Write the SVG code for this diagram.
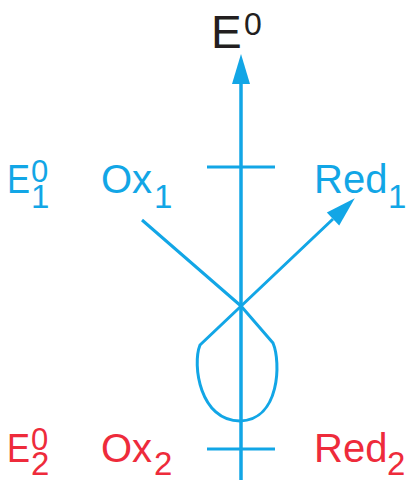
<svg xmlns="http://www.w3.org/2000/svg" width="409" height="480" viewBox="0 0 409 480">
  <style>
    text { font-family: "Liberation Sans", Arial, sans-serif; }
    .blue { fill: #12a6e6; }
    .red { fill: #ee2b3b; }
    .dark { fill: #231f20; }
    .main { font-size: 40px; }
    .small { font-size: 32px; }
    .ln { stroke: #12a6e6; fill: none; }
  </style>
  <defs>
    <marker id="ah" markerUnits="userSpaceOnUse" markerWidth="30" markerHeight="18" refX="0" refY="9" orient="auto" overflow="visible">
      <path d="M0,0 L30,9 L0,18 Z" fill="#12a6e6"/>
    </marker>
  </defs>
  <g id="connectors">
    <line id="axis" class="ln" x1="241" y1="482" x2="241" y2="84" stroke-width="3.5" marker-end="url(#ah)"/>
    <path id="curve" class="ln" stroke-width="3" stroke-linejoin="round" d="M142,220 L241,306 L273,343 C281,362 280,420 240,421 C200,421 192,365 200,345 L333,219" marker-end="url(#ah)"/>
  </g>
  <g id="axis-label">
    <text class="dark" x="211" y="48" font-size="46">E</text>
    <text class="dark" x="244" y="35" font-size="32">0</text>
  </g>
  <g id="level1">
    <line class="ln" x1="207" y1="167" x2="275" y2="167" stroke-width="3"/>
    <text class="blue main" x="7" y="193" textLength="23" lengthAdjust="spacingAndGlyphs">E</text>
    <text class="blue" x="31" y="182" font-size="31">0</text>
    <text class="blue" x="31" y="208" font-size="33">1</text>
  </g>
  <g id="ox1">
    <text class="blue main" x="101" y="193">Ox</text>
    <text class="blue" x="154" y="208" font-size="33">1</text>
  </g>
  <g id="red1">
    <text class="blue main" x="314" y="193">Red</text>
    <text class="blue" x="388" y="208" font-size="33">1</text>
  </g>
  <g id="level2">
    <line class="ln" x1="207" y1="449" x2="275" y2="449" stroke-width="3"/>
    <text class="red main" x="7" y="462" textLength="23" lengthAdjust="spacingAndGlyphs">E</text>
    <text class="red" x="31" y="450" font-size="31">0</text>
    <text class="red" x="31" y="475" font-size="33">2</text>
  </g>
  <g id="ox2">
    <text class="red main" x="101" y="462">Ox</text>
    <text class="red" x="154" y="475" font-size="33">2</text>
  </g>
  <g id="red2">
    <text class="red main" x="314" y="462">Red</text>
    <text class="red" x="387" y="475" font-size="33">2</text>
  </g>
</svg>
